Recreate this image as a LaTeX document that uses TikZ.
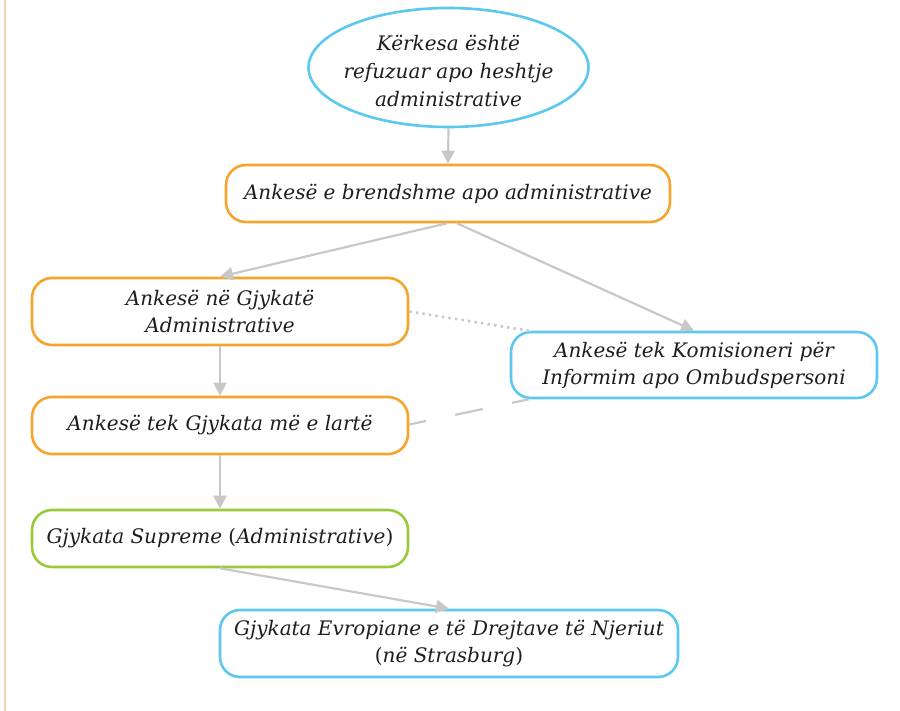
\documentclass[tikz,border=0pt]{standalone}
\usepackage{fontspec}
\setmainfont{DejaVu Serif}
\usetikzlibrary{arrows.meta,shapes.geometric}
\definecolor{cblue}{HTML}{5BC8F0}
\definecolor{corange}{HTML}{F5A42C}
\definecolor{cgreen}{HTML}{9BC93C}
\definecolor{cgray}{HTML}{C8C8C8}
\definecolor{ctan}{HTML}{EEDAAE}
\definecolor{ctext}{HTML}{1E1E1E}
\begin{document}
\begin{tikzpicture}[x=1pt,y=-1pt,
  txt/.style={align=center,font=\fontsize{20}{27}\selectfont\itshape,text=ctext,inner sep=0pt},
  boxbase/.style={txt,draw,line width=2.6pt,rounded corners=20pt},
  orangebox/.style={boxbase,draw=corange},
  bluebox/.style={boxbase,draw=cblue},
  greenbox/.style={boxbase,draw=cgreen},
  conn/.style={draw=cgray,line width=2.2pt},
  arr/.style={conn,-{Triangle[length=13pt,width=13pt]}}]
\useasboundingbox (0,0) rectangle (900,711);
\fill[white] (0,0) rectangle (900,711);
\draw[ctan,line width=2pt] (4.5,0) -- (4.5,711);

\node[ellipse,draw=cblue,line width=2.6pt,minimum width=280pt,minimum height=119pt,inner sep=0pt]
  (e) at (448.5,67.5) {};
\node[txt,font=\fontsize{20}{28}\selectfont\itshape] (et) at (448.5,71)
  {Kërkesa është\\refuzuar apo heshtje\\administrative};

\node[orangebox,minimum width=444pt,minimum height=57pt] (b2) at (448,193.5)
  {Ankesë e brendshme apo administrative};
\node[orangebox,minimum width=376pt,minimum height=67pt] (b3) at (220,311.5)
  {Ankesë në Gjykatë\\Administrative};
\node[orangebox,minimum width=376pt,minimum height=57pt] (b4) at (220,425.5)
  {Ankesë tek Gjykata më e lartë};
\node[greenbox,minimum width=376pt,minimum height=57pt] (b5) at (220,538.5)
  {Gjykata Supreme \textup{(}Administrative\textup{)}};
\node[bluebox,minimum width=366pt,minimum height=66pt] (b6) at (694,365)
  {Ankesë tek Komisioneri për\\Informim apo Ombudspersoni};
\node[bluebox,minimum width=458pt,minimum height=67pt] (b7) at (449,643.5)
  {Gjykata Evropiane e të Drejtave të Njeriut\\\textup{(}në Strasburg\textup{)}};

\coordinate (d1) at ([xshift=19pt]b6.north west);
\coordinate (d2) at ([xshift=19pt]b6.south west);

\draw[arr] (e.south) -- (b2.north);
\draw[arr] ([xshift=-1pt]b2.south) -- (b3.north);
\draw[arr] ([xshift=9pt]b2.south) -- (b6.north);
\draw[arr] (b3.south) -- (b4.north);
\draw[arr] (b4.south) -- (b5.north);
\draw[arr] (b5.south) -- (b7.north);
\draw[conn,line width=2.6pt,dash pattern=on 2.4pt off 4.2pt] (b3.east) -- (d1);
\draw[conn,dash pattern=on 17pt off 30pt on 28pt off 30pt on 28pt off 30pt] ([yshift=1pt]b4.east) -- (d2);
\end{tikzpicture}
\end{document}
